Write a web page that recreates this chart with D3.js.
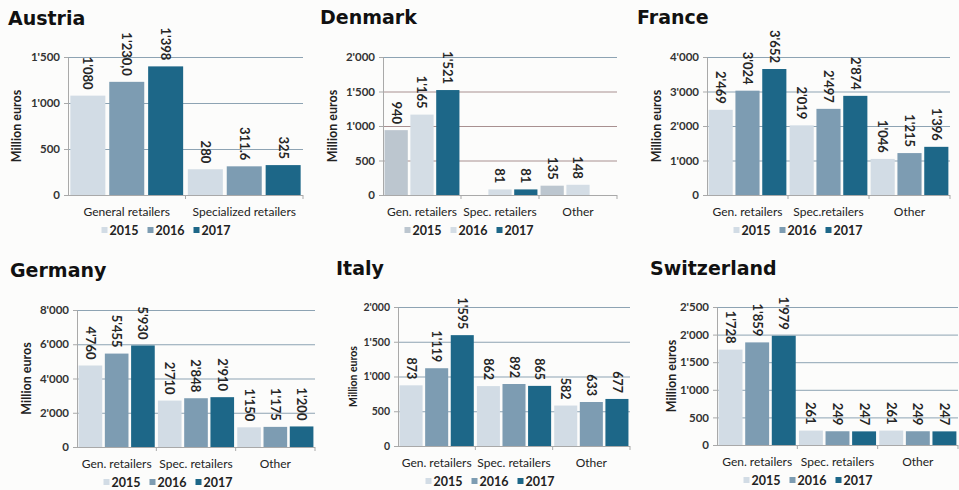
<!DOCTYPE html>
<html>
<head>
<meta charset="utf-8">
<script src="https://cdn.jsdelivr.net/npm/d3@7"></script>
<style>
  body { margin: 0; background: #fcfcfb; }
  svg { display: block; font-family: Lato, "Open Sans", sans-serif; }
</style>
</head>
<body>
<svg id="chart" width="959" height="490"></svg>
<script>
// data
const years = ["2015", "2016", "2017"];

const austriaCats = ["General retailers", "Specialized retailers"];
const austriaVals = [[1080, 1230, 1398], [280, 311.6, 325]];
const austriaLabels = [["1'080", "1'230,0", "1'398"], ["280", "311.6", "325"]];
const austriaTicks = [0, 500, 1000, 1500];

const denmarkCats = ["Gen. retailers", "Spec. retailers", "Other"];
const denmarkVals = [[940, 1165, 1521], [null, 81, 81], [135, 148, null]];
const denmarkTicks = [0, 500, 1000, 1500, 2000];

const franceCats = ["Gen. retailers", "Spec.retailers", "Other"];
const franceVals = [[2469, 3024, 3652], [2019, 2497, 2874], [1046, 1215, 1396]];
const franceTicks = [0, 1000, 2000, 3000, 4000];

const germanyCats = ["Gen. retailers", "Spec. retailers", "Other"];
const germanyVals = [[4760, 5455, 5930], [2710, 2848, 2910], [1150, 1175, 1200]];
const germanyTicks = [0, 2000, 4000, 6000, 8000];

const italyCats = ["Gen. retailers", "Spec. retailers", "Other"];
const italyVals = [[873, 1119, 1595], [862, 892, 865], [582, 633, 677]];
const italyTicks = [0, 500, 1000, 1500, 2000];

const switzCats = ["Gen. retailers", "Spec. retailers", "Other"];
const switzVals = [[1728, 1859, 1979], [261, 249, 247], [261, 249, 247]];
const switzTicks = [0, 500, 1000, 1500, 2000, 2500];

// colours
const blues = ["#d2dce5", "#7d9cb2", "#1d6788"];
const denmarkColors = ["#bcc6cf", "#d4dde5", "#1d6788"];

const fmt = v => d3.format(",")(v).replace(/,/g, "'");

const svg = d3.select("#chart");

const panels = [
  {title: "Austria", tx: 8, ty: 25, cats: austriaCats, vals: austriaVals, labels: austriaLabels, ticks: austriaTicks,
   left: 68, right: 303, top: 57, bottom: 195, ylx: 17, legX: 166, colors: blues, grid: "#8da3b3"},
  {title: "Denmark", tx: 320, ty: 24, cats: denmarkCats, vals: denmarkVals, ticks: denmarkTicks,
   left: 383, right: 617, top: 57, bottom: 195, ylx: 333, legX: 469, colors: denmarkColors, grid: "#a89090"},
  {title: "France", tx: 637, ty: 24, cats: franceCats, vals: franceVals, ticks: franceTicks,
   left: 707, right: 950, top: 57, bottom: 195, ylx: 657, legX: 798, colors: blues, grid: "#8da3b3"},
  {title: "Germany", tx: 10, ty: 277, cats: germanyCats, vals: germanyVals, ticks: germanyTicks,
   left: 77, right: 315, top: 310, bottom: 447, ylx: 27, legX: 168, colors: blues, grid: "#8da3b3"},
  {title: "Italy", tx: 336, ty: 275, cats: italyCats, vals: italyVals, ticks: italyTicks,
   left: 398, right: 630, top: 307, bottom: 446, ylx: 353, legX: 490, colors: blues, grid: "#8da3b3", small: true},
  {title: "Switzerland", tx: 650, ty: 275, cats: switzCats, vals: switzVals, ticks: switzTicks,
   left: 717, right: 958, top: 307, bottom: 445, ylx: 672, legX: 808, colors: blues, grid: "#8da3b3"}
];

panels.forEach(drawPanel);

function drawPanel(p) {
  const g = svg.append("g");

  const x0 = d3.scaleBand().domain(p.cats).range([p.left, p.right]).paddingInner(0.04).paddingOuter(0.02);
  const x1 = d3.scaleBand().domain(years).range([0, x0.bandwidth()]).paddingInner(0.1);
  const y = d3.scaleLinear().domain([0, d3.max(p.ticks)]).range([p.bottom, p.top]);

  // grid (top line stays blue-grey)
  const topTick = d3.max(p.ticks);
  g.selectAll(".grid").data(p.ticks.filter(t => t > 0)).join("line")
    .attr("x1", p.left).attr("x2", p.right)
    .attr("y1", d => y(d) + 0.5).attr("y2", d => y(d) + 0.5)
    .attr("stroke", d => d === topTick ? "#8da3b3" : p.grid).attr("stroke-width", 1);

  // bars
  const rows = p.cats.flatMap((c, i) => years.map((yr, j) => ({
    cat: c, yr: yr, j: j, v: p.vals[i][j],
    label: p.labels ? p.labels[i][j] : fmt(p.vals[i][j])
  }))).filter(d => d.v != null);

  g.selectAll(".bar").data(rows).join("rect")
    .attr("x", d => x0(d.cat) + x1(d.yr))
    .attr("y", d => y(d.v))
    .attr("width", x1.bandwidth())
    .attr("height", d => y(0) - y(d.v))
    .attr("fill", d => p.colors[d.j]);

  g.selectAll(".val").data(rows).join("text")
    .attr("transform", d => `translate(${x0(d.cat) + x1(d.yr) + x1.bandwidth() / 2},${y(d.v) - 6}) rotate(90)`)
    .attr("text-anchor", "end")
    .attr("dy", "0.35em")
    .attr("font-size", p.small ? 12.5 : 13)
    .attr("font-weight", "bold")
    .attr("fill", "#262626")
    .text(d => d.label);

  // y axis
  const ya = g.append("g")
    .attr("transform", `translate(${p.left},0)`)
    .call(d3.axisLeft(y).tickValues(p.ticks).tickFormat(fmt).tickSize(4).tickPadding(4).tickSizeOuter(0));
  ya.select(".domain").attr("stroke", "#a9a9a9");
  ya.selectAll(".tick line").attr("stroke", "#a9a9a9");
  ya.selectAll(".tick text")
    .attr("font-family", "Lato, sans-serif")
    .attr("font-size", p.small ? 10.5 : 11.5)
    .attr("font-weight", "bold")
    .attr("fill", "#333");

  // x baseline with category ticks
  g.append("line")
    .attr("x1", p.left).attr("x2", p.right)
    .attr("y1", p.bottom + 0.5).attr("y2", p.bottom + 0.5)
    .attr("stroke", "#a9a9a9");
  const edges = p.cats.map(c => x0(c) - x0.step() * x0.paddingInner() / 2).slice(1).concat([p.right]);
  g.selectAll(".xt").data(edges).join("line")
    .attr("x1", d => d).attr("x2", d => d)
    .attr("y1", p.bottom).attr("y2", p.bottom + 4)
    .attr("stroke", "#a9a9a9");

  g.selectAll(".cat").data(p.cats).join("text")
    .attr("x", d => x0(d) + x0.bandwidth() / 2)
    .attr("y", p.bottom + 21)
    .attr("text-anchor", "middle")
    .attr("font-size", 12)
    .attr("fill", "#222")
    .text(d => d);

  // y label
  g.append("text")
    .attr("transform", `translate(${p.ylx},${(p.top + p.bottom) / 2}) rotate(-90)`)
    .attr("text-anchor", "middle")
    .attr("dy", "0.35em")
    .attr("font-size", p.small ? 10.5 : 12.5)
    .attr("font-weight", "bold")
    .attr("fill", "#222")
    .text("Million euros");

  // title
  g.append("text")
    .attr("x", p.tx).attr("y", p.ty)
    .attr("font-family", "'DejaVu Sans', sans-serif")
    .attr("font-size", 19)
    .attr("font-weight", "bold")
    .attr("fill", "#111")
    .text(p.title);

  // legend
  const leg = g.append("g");
  let lx = 0;
  years.forEach((yr, j) => {
    leg.append("rect").attr("x", lx).attr("y", -8).attr("width", 6).attr("height", 6).attr("fill", p.colors[j]);
    const t = leg.append("text").attr("x", lx + 8).attr("y", 0)
      .attr("font-size", 12.5).attr("font-weight", "bold").attr("fill", "#222").text(yr);
    lx += 8 + t.node().getComputedTextLength() + 9;
  });
  const lw = lx - 9;
  leg.attr("transform", `translate(${p.legX - lw / 2},${p.bottom + 40})`);
}
</script>
</body>
</html>
